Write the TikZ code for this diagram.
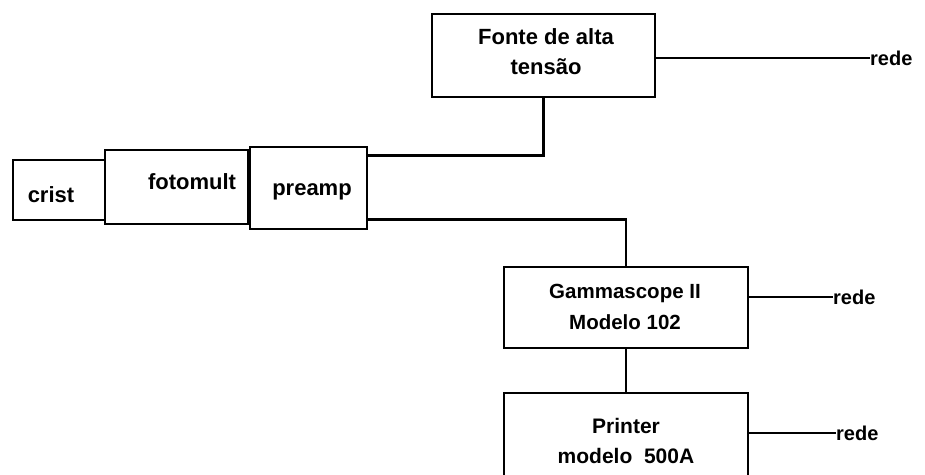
\documentclass[tikz,border=0pt]{standalone}
\usepackage{fontspec}
\setmainfont{Liberation Sans}
\usetikzlibrary{calc}
\begin{document}
\begin{tikzpicture}[x=1pt,y=-1pt,
  box/.style={draw,line width=2.6pt,rectangle,inner sep=0pt},
  txt/.style={inner sep=0pt,align=center,font=\fontsize{22}{30}\selectfont\bfseries},
  stxt/.style={inner sep=0pt,align=center,font=\fontsize{20.5}{31}\selectfont\bfseries},
  wire/.style={line width=2.6pt},
  lbl/.style={inner sep=0pt,anchor=west,font=\fontsize{20}{30}\selectfont\bfseries}]
\useasboundingbox (0,0) rectangle (925,474);
\clip (0,0) rectangle (925,474);
\node[box,minimum width=92,minimum height=60] (crist) at (59,190) {};
\node[box,minimum width=143,minimum height=74] (foto) at (176.5,187) {};
\node[box,minimum width=117,minimum height=82] (preamp) at (308.5,188) {};
\node[box,minimum width=223,minimum height=83] (fonte) at (543.5,55.5) {};
\node[box,minimum width=244,minimum height=81] (gamma) at (626,307.5) {};
\node[box,minimum width=244,minimum height=126] (printer) at (626,456) {};
\node[txt] (cristtxt) at (51,195) {crist};
\node[txt] (fototxt) at (192,182) {fotomult};
\node[txt] (preamptxt) at (312,192) {preamp};
\node[txt] (fontetxt) at (546,52) {Fonte de alta\\tensão};
\node[stxt] (gammatxt) at (625,307) {Gammascope II\\Modelo 102};
\node[stxt,font=\fontsize{21}{30}\selectfont\bfseries] (printertxt) at (626,441) {Printer\\modelo\ \ 500A};
\node[lbl] (rede1) at (870,58) {rede};
\node[lbl] (rede2) at (833,297) {rede};
\node[lbl] (rede3) at (836,433) {rede};
\coordinate (f1) at ($(preamp.north east)+(0,10)$);
\coordinate (p1) at ($(preamp.south east)+(0,-11)$);
\draw[wire] (fonte.east |- rede1.west) -- (rede1.west);
\draw[wire] (fonte.south) |- (f1);
\draw[wire] (p1) -| (gamma.north);
\draw[wire] (gamma.south) -- (printer.north);
\draw[wire] (gamma.east |- rede2.west) -- (rede2.west);
\draw[wire] (printer.east |- rede3.west) -- (rede3.west);
\end{tikzpicture}
\end{document}
